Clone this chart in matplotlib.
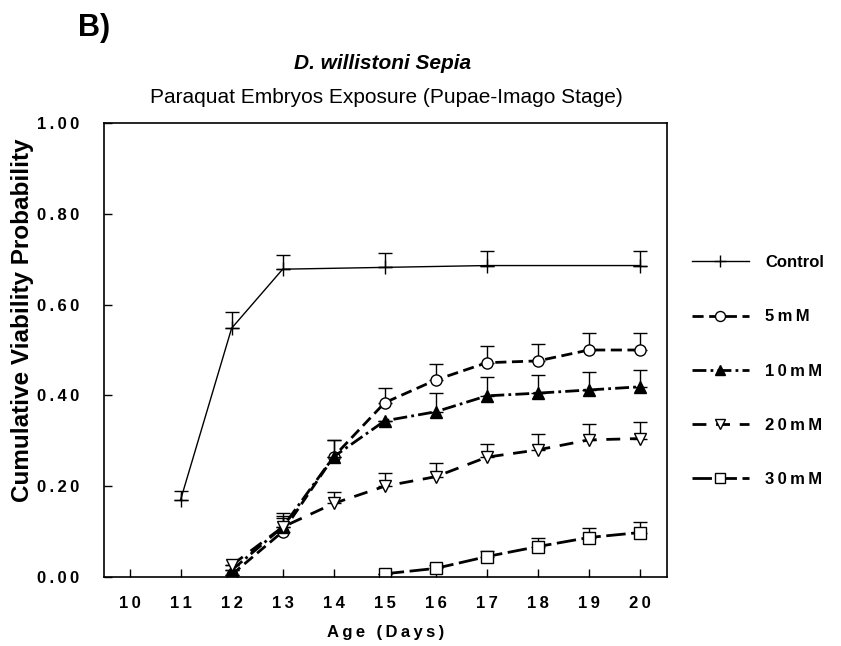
import numpy as np
import matplotlib
matplotlib.use("Agg")
import matplotlib.pyplot as plt

plt.rcParams["font.family"] = ["Liberation Sans", "DejaVu Sans"]

# data
ctrl_x = [11, 12, 13, 15, 17, 20]
ctrl_y = [0.17, 0.548, 0.678, 0.682, 0.686, 0.686]
ctrl_e = [0.02, 0.035, 0.031, 0.031, 0.033, 0.033]

mm5_x = [12, 13, 14, 15, 16, 17, 18, 19, 20]
mm5_y = [0.005, 0.10, 0.265, 0.384, 0.434, 0.472, 0.476, 0.500, 0.500]
mm5_e = [0.0, 0.03, 0.037, 0.032, 0.035, 0.037, 0.037, 0.037, 0.037]

mm10_x = [12, 13, 14, 15, 16, 17, 18, 19, 20]
mm10_y = [0.015, 0.11, 0.265, 0.344, 0.364, 0.399, 0.405, 0.412, 0.419]
mm10_e = [0.0, 0.03, 0.037, 0.0, 0.041, 0.041, 0.040, 0.040, 0.038]

mm20_x = [12, 13, 14, 15, 16, 17, 18, 19, 20]
mm20_y = [0.026, 0.11, 0.162, 0.200, 0.221, 0.264, 0.280, 0.302, 0.305]
mm20_e = [0.0, 0.025, 0.026, 0.030, 0.031, 0.030, 0.035, 0.035, 0.037]

mm30_x = [15, 16, 17, 18, 19, 20]
mm30_y = [0.007, 0.019, 0.045, 0.067, 0.087, 0.098]
mm30_e = [0.0, 0.008, 0.012, 0.018, 0.022, 0.024]

labels = ["Control", "5mM", "10mM", "20mM", "30mM"]
xticks = list(range(10, 21))
yticks = [0.0, 0.2, 0.4, 0.6, 0.8, 1.0]


def spaced(s):
    # the original has wide letter spacing
    return "\u2009".join(s)


fig = plt.figure(figsize=(8.41, 6.46), dpi=100)
ax = fig.add_axes([0.1237, 0.1068, 0.6694, 0.7028])

series = [
    (labels[0], ctrl_x, ctrl_y, ctrl_e, dict(ls="-", lw=1.0, marker="+", ms=10, mfc="black", mew=1.0)),
    (spaced(labels[1]), mm5_x, mm5_y, mm5_e, dict(ls=(0, (4, 2)), lw=2.0, marker="o", ms=8, mfc="white", mew=1.0)),
    (spaced(labels[2]), mm10_x, mm10_y, mm10_e, dict(ls=(0, (5, 1.5, 1, 1.5)), lw=2.0, marker="^", ms=8, mfc="black", mew=1.0)),
    (spaced(labels[3]), mm20_x, mm20_y, mm20_e, dict(ls=(0, (5, 3.5)), lw=2.0, marker="v", ms=8, mfc="white", mew=1.0)),
    (spaced(labels[4]), mm30_x, mm30_y, mm30_e, dict(ls=(0, (7, 2)), lw=2.0, marker="s", ms=8, mfc="white", mew=1.0)),
]

handles = []
for label, x, y, e, st in series:
    x = np.array(x)
    y = np.array(y)
    e = np.array(e)
    ax.errorbar(x, y, yerr=[np.zeros_like(e), e], fmt="none", ecolor="black",
                elinewidth=1.0, capsize=5, capthick=1.0)
    h, = ax.plot(x, y, color="black", mec="black", label=label, **st)
    handles.append(h)

ax.set_xlim(9.5, 20.53)
ax.set_ylim(0, 1.0)
ax.set_xticks(xticks)
ax.set_yticks(yticks)
ax.set_xticklabels([spaced(str(t)) for t in xticks], fontweight="bold", fontsize=12)
ax.set_yticklabels([spaced("%.2f" % t) for t in yticks], fontweight="bold", fontsize=12)
ax.tick_params(axis="x", direction="in", length=6, width=1, pad=14)
ax.tick_params(axis="y", direction="in", length=6, width=1, pad=18)
for sp in ax.spines.values():
    sp.set_linewidth(1.2)

ax.set_xlabel(spaced("Age (Days)"), fontweight="bold", fontsize=12, labelpad=10)
ax.set_ylabel("Cumulative Viability Probability", fontweight="bold", fontsize=17.5)
ax.yaxis.set_label_coords(-0.125, 0.566)

fig.text(0.093, 0.956, "B)", fontsize=22, fontweight="bold", ha="left", va="center")
fig.text(0.455, 0.902, "D. willistoni Sepia", fontsize=15, fontweight="bold",
         style="italic", ha="center", va="center")
fig.text(0.46, 0.849, "Paraquat Embryos Exposure (Pupae-Imago Stage)", fontsize=15,
         ha="center", va="center")

fig.legend(handles=handles, loc="upper left", bbox_to_anchor=(0.805, 0.628),
           frameon=False, prop={"weight": "bold", "size": 12},
           labelspacing=2.35, handlelength=3.4, handletextpad=1.0, markerscale=0.9)

fig.savefig("out.png", dpi=100)
